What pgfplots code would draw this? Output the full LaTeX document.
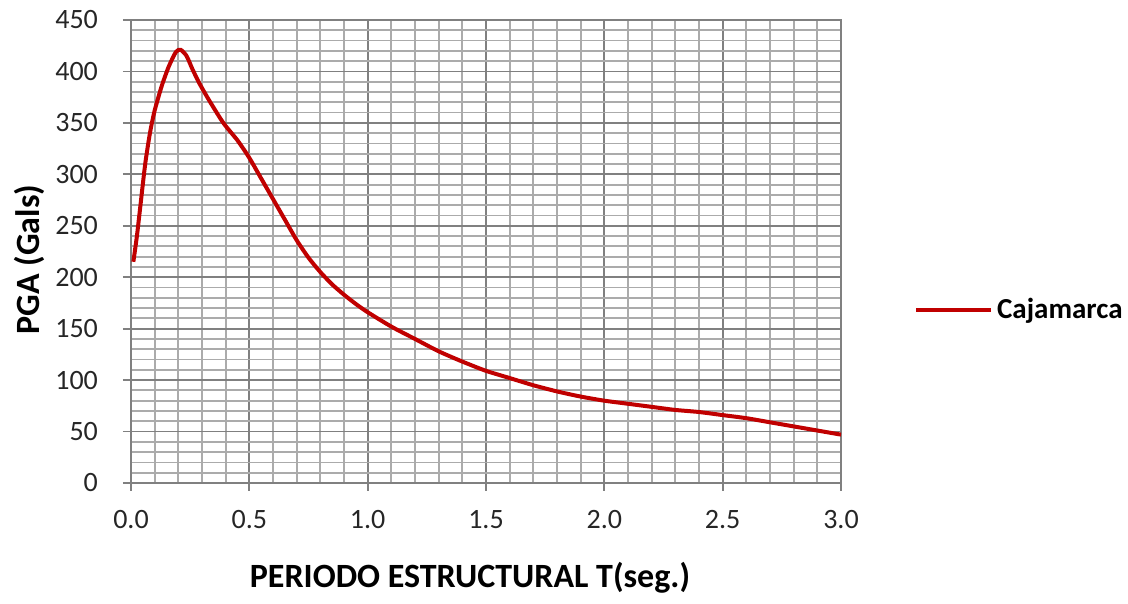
\documentclass[border=0pt]{standalone}
\usepackage{pgfplots}
\pgfplotsset{compat=1.18}
\usepackage{fontspec}
\setmainfont{Carlito}
\definecolor{curvered}{RGB}{192,0,0}
\begin{document}
\begin{tikzpicture}
\begin{axis}[
  scale only axis, width=355pt, height=231.5pt,
  xmin=0, xmax=3, ymin=0, ymax=450,
  xtick={0,0.5,1,1.5,2,2.5,3}, ytick={0,50,...,450},
  minor x tick num=4, minor y tick num=4,
  grid=both,
  major grid style={color=black!50, line width=0.9pt},
  minor grid style={color=black!33, line width=0.9pt},
  axis line style={black!50, line width=0.9pt},
  tick align=outside, major tick length=4pt, minor tick length=0pt,
  tick style={black!50, line width=0.9pt},
  xtick pos=left, ytick pos=left,
  /pgf/number format/assume math mode=true,
  xticklabel style={yshift=-6pt, /pgf/number format/.cd, fixed, fixed zerofill, precision=1},
  yticklabel style={xshift=-9pt},
  ticklabel style={font=\fontsize{14}{16}\selectfont, text=black!85},
  xlabel={PERIODO ESTRUCTURAL T(seg.)}, ylabel={PGA (Gals)},
  label style={font=\bfseries\fontsize{17}{20}\selectfont},
  xlabel style={yshift=-10pt, xshift=-8pt},
  ylabel style={yshift=-1.5pt, xshift=-4pt},
  legend style={at={(1.094,0.374)}, anchor=west, draw=none, fill=none,
    font=\bfseries\fontsize{14.5}{16}\selectfont},
  legend cell align=left,
  legend image code/.code={\draw[#1, line width=2pt] (0pt,0pt) -- (33pt,0pt);
    \path (0pt,0pt) -- (37.5pt,0pt);},
]
\addplot[curvered, line width=2pt, smooth, tension=0.4] coordinates {
(0.01,215) (0.025,240) (0.04,270) (0.06,310) (0.08,340) (0.1,362)
(0.13,386) (0.16,405) (0.19,419) (0.21,421) (0.235,415) (0.26,402)
(0.29,388) (0.33,372) (0.39,350) (0.45,333) (0.5,316) (0.55,296)
(0.6,276) (0.65,256) (0.7,236) (0.75,219) (0.8,205) (0.85,193)
(0.9,183) (0.95,174) (1.0,166) (1.1,152) (1.2,140) (1.3,128)
(1.4,118) (1.5,109) (1.6,102) (1.7,95) (1.8,89) (1.9,84) (2.0,80)
(2.1,77) (2.2,74) (2.3,71) (2.4,69) (2.5,66) (2.6,63) (2.7,59)
(2.8,55) (2.9,51) (3.0,47)
};
\addlegendentry{Cajamarca}
\coordinate (o) at (rel axis cs:0,0);
\end{axis}
\pgfresetboundingbox
\path (o) ++(-65.5pt,-60.5pt) rectangle ++(564pt,302pt);
\end{tikzpicture}
\end{document}
